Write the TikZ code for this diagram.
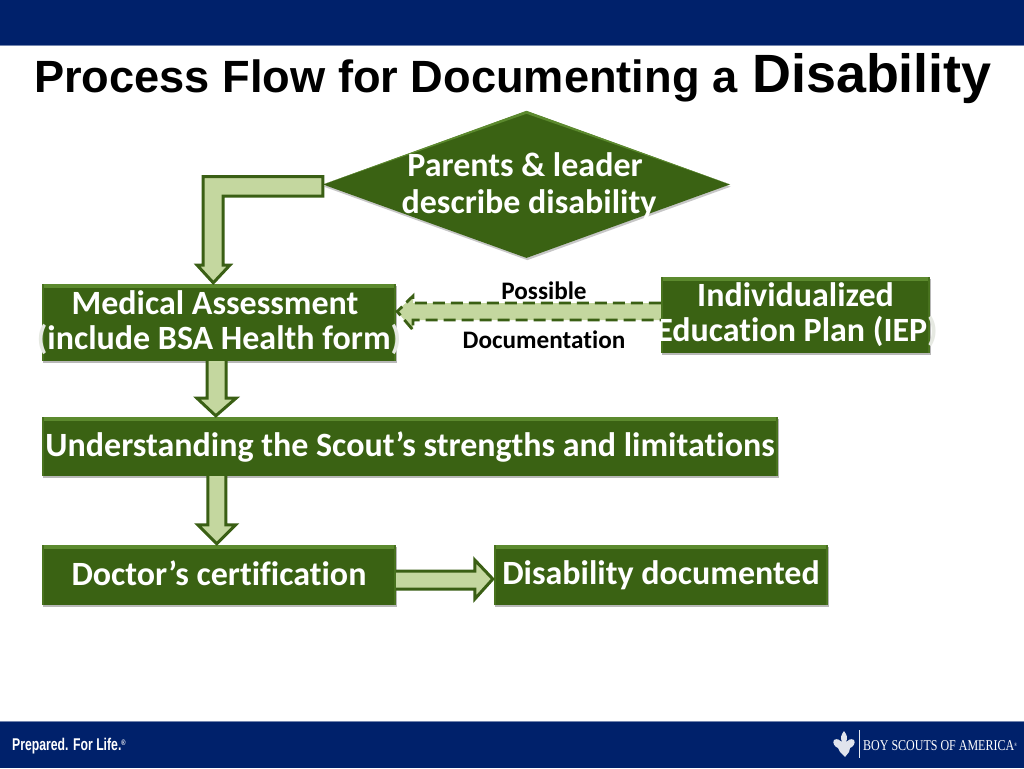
\documentclass[tikz,border=0pt]{standalone}
\usepackage{fontspec}
\setmainfont[Ligatures=NoCommon]{Carlito}
\newfontfamily\arialf{Liberation Sans}
\newfontfamily\timesf{Liberation Serif}
\usetikzlibrary{shapes.geometric,shadows,calc}
\definecolor{navy}{HTML}{00216B}
\definecolor{boxgreen}{HTML}{3A6213}
\definecolor{boxlight}{HTML}{5C8A2E}
\definecolor{arrowfill}{HTML}{C4D79F}
\definecolor{arrowline}{HTML}{3A5F14}
\definecolor{softw}{HTML}{E6E9E2}
\newcommand{\ovl}[1]{\makebox[0pt]{#1}}
\tikzset{
 stepbox/.style={rectangle,inner sep=0pt,fill=boxgreen,text=white,font=\bfseries\fontsize{34}{35}\selectfont,align=center,
   drop shadow={shadow xshift=0.8pt,shadow yshift=-2.2pt,fill=black,opacity=.28},
   path picture={
     \fill[boxlight] (path picture bounding box.north west) rectangle ([yshift=-3.5pt]path picture bounding box.north east);
     \fill[boxlight!40!boxgreen] (path picture bounding box.north west) rectangle ([xshift=2pt]path picture bounding box.south west);
     \fill[boxlight!40!boxgreen] (path picture bounding box.north east) rectangle ([xshift=-2pt]path picture bounding box.south east);
   }},
 blockarrow/.style={draw=arrowline,fill=arrowfill,line width=3pt,miter limit=6},
 dasharrow/.style={draw=arrowline,line width=2.8pt,dash pattern=on 12pt off 6pt},
 smalllabel/.style={inner sep=0pt,text=black,font=\bfseries\fontsize{25.2}{28}\selectfont},
}
\begin{document}
\begin{tikzpicture}[x=1pt,y=-1pt]
\useasboundingbox (0,0) rectangle (1024,768);
\fill[white] (0,0) rectangle (1024,768);
% bars
\fill[navy] (0,0) rectangle (1024,45);
\fill[navy!55!white] (0,45) rectangle (1024,46.5);
\fill[navy] (0,721) rectangle (1024,768);
\fill[navy!55!white] (0,720.5) rectangle (1024,722);
% title
\node[anchor=base west,inner sep=0pt,font=\arialf\bfseries\fontsize{45.2}{50}\selectfont,text=black] (titlea) at (34,92) {Process Flow for Documenting a};
\node[anchor=base west,inner sep=0pt,font=\arialf\bfseries\fontsize{53.9}{58}\selectfont,text=black] (titleb) at (752,92.5) {Disability};
% diamond
\node[diamond,inner sep=0pt,minimum width=407pt,minimum height=147pt,aspect=2.77,fill=boxgreen,
  drop shadow={shadow xshift=0.8pt,shadow yshift=-2.2pt,fill=black,opacity=.22}] (par) at (526.5,184.5) {};
\fill[boxlight] (par.west) -- (par.north) -- (par.east) -- ($(par.north)+(0,3)$) -- cycle;
\node[inner sep=0pt,text=white,align=center,font=\bfseries\fontsize{34}{37}\selectfont] (parl) at (529,186) {\ovl{Parents \& leader\hspace{8pt}}\\describe disability};
% boxes
\node[stepbox,minimum width=354pt,minimum height=77pt] (med) at (219,322.5) {\ovl{Medical Assessment\hspace{8pt}}\\\ovl{\textcolor{softw}{(}include BSA Health form\textcolor{softw}{)}}\rule[-3pt]{0pt}{7pt}};
\node[stepbox,minimum width=269pt,minimum height=76pt] (iep) at (795.5,315) {\ovl{Individualized}\\\ovl{\hspace{3pt}Education Plan (IEP\textcolor{softw}{)}}\rule[-6pt]{0pt}{10pt}};
\node[stepbox,minimum width=736pt,minimum height=59pt] (und) at (410,446.5) {\ovl{Understanding the Scout’s strengths and limitations}\rule[-7pt]{0pt}{33.5pt}};
\node[stepbox,minimum width=354pt,minimum height=60pt] (doc) at (219,575) {Doctor’s certification\rule[-4pt]{0pt}{28pt}};
\node[stepbox,minimum width=334pt,minimum height=60pt] (dis) at (661,575) {Disability documented\rule[-4pt]{0pt}{28pt}};
% L arrow: diamond to medical
\draw[blockarrow] ($(par.west)+(0,-8)$) -- (203,176.5) -- (203,265) -- (197,265) -- ($(med.north west)+(171.5,-1)$) -- (230,265) -- (223,265) -- (223,196) -- ($(par.west)+(0,11.5)$) -- cycle;
% medical to understanding
\draw[blockarrow] ($(med.south)+(-12,0)$) -- ($(med.south)+(-12,37)$) -- ($(med.south)+(-22,37)$) -- ($(und.north west)+(174,-1)$) -- ($(med.south)+(17,37)$) -- ($(med.south)+(7,37)$) -- ($(med.south)+(7,0)$);
% understanding to doctor
\draw[blockarrow] ($(und.south west)+(166,0)$) -- ($(doc.north west)+(166,-20)$) -- ($(doc.north west)+(156,-20)$) -- ($(doc.north west)+(175,-1)$) -- ($(doc.north west)+(194,-20)$) -- ($(doc.north west)+(184,-20)$) -- ($(und.south west)+(184,0)$);
% doctor to documented
\draw[blockarrow] ($(doc.east)+(0,-4)$) -- ($(dis.west)+(-19,-4)$) -- ($(dis.west)+(-19,-15)$) -- ($(dis.west)+(-1,4)$) -- ($(dis.west)+(-19,24)$) -- ($(dis.west)+(-19,14)$) -- ($(doc.east)+(0,14)$);
% dashed arrow
\fill[arrowfill] (iep.west |- 0,303) -- (413,303) -- (413,296) -- (397,311.5) -- (413,330) -- (413,320) -- (iep.west |- 0,320) -- cycle;
\draw[dasharrow] (iep.west |- 0,303) -- (413,303) -- (413,296) -- ($(med.east)+(1,-11)$) -- (413,330) -- (413,320) -- (iep.west |- 0,320);
% labels
\node[smalllabel,anchor=center] (pos) at (544,291) {Possible};
\node[smalllabel,anchor=center] (docu) at (544,340) {Documentation};
% footer
\node[anchor=base west,inner sep=0pt,text=white,xscale=.72,font=\arialf\bfseries\fontsize{17}{18}\selectfont,transform shape] (prep) at (12,750) {Prepared. For Life.\raisebox{5pt}{\fontsize{8}{8}\selectfont ®}};
\fill[white!90!navy] (859,730) rectangle (860,758);
\node[anchor=base west,inner sep=0pt,text=white,xscale=.80,transform shape,font=\timesf\fontsize{15}{18}\selectfont] (bsa) at (863,750) {BOY SCOUTS OF AMERICA\raisebox{4pt}{\fontsize{5}{6}\selectfont ®}};
% emblem
\fill[white!88!navy] (844,731) .. controls (847,735) and (848,738) .. (846,742) .. controls (848,740) and (851,738) .. (854,740) .. controls (856,743) and (853,747) .. (850,748) -- (849,752) -- (845,757) -- (840,752) -- (838,748) .. controls (835,747) and (832,743) .. (834,740) .. controls (837,738) and (840,740) .. (842,742) .. controls (840,738) and (841,735) .. cycle;
\end{tikzpicture}
\end{document}
